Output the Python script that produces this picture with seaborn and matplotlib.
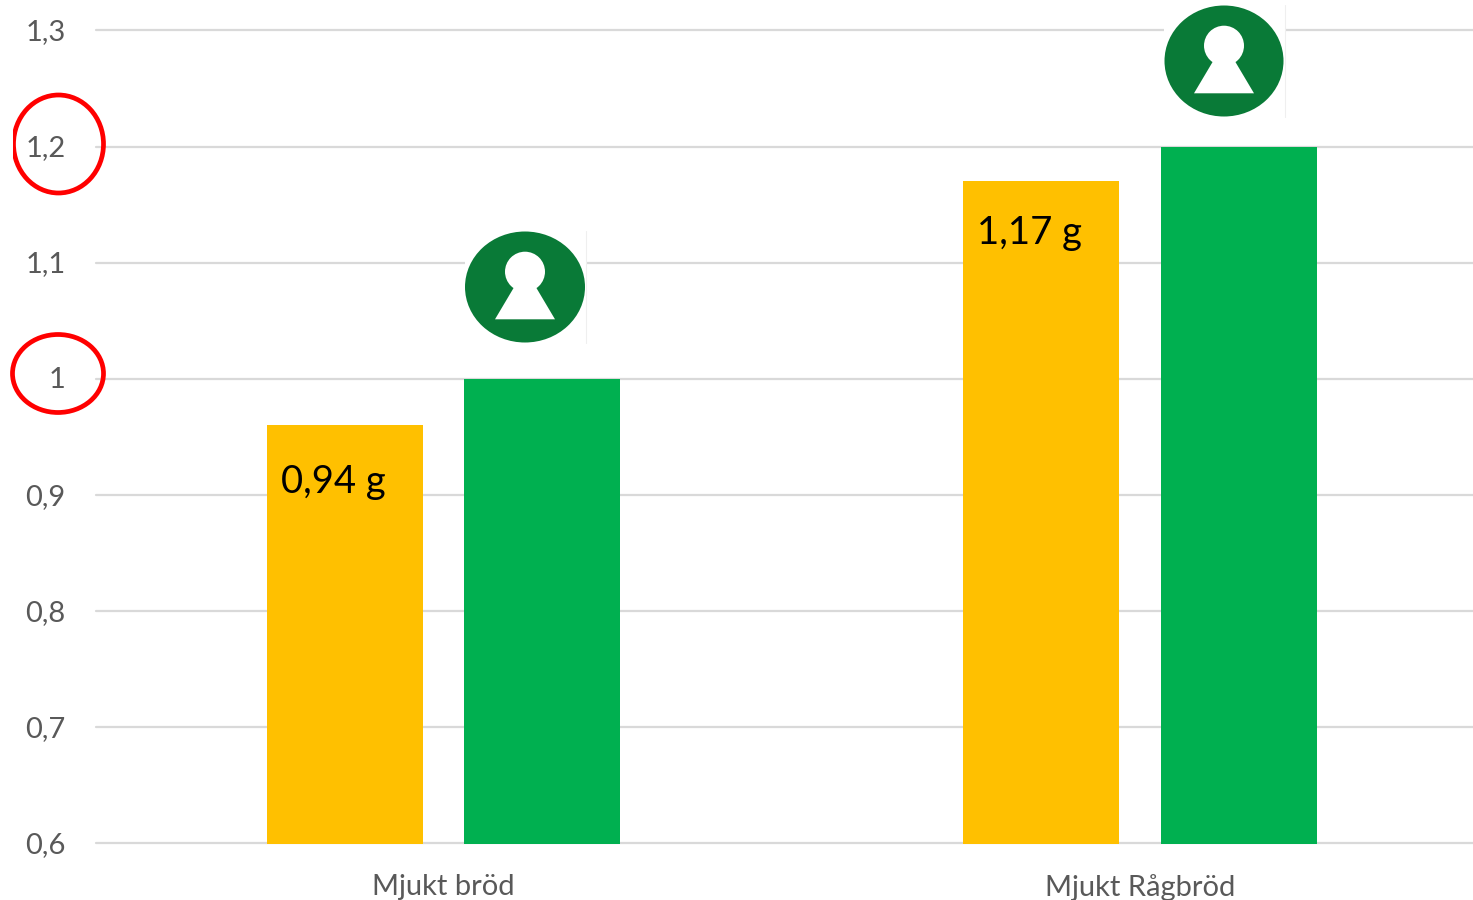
import matplotlib
matplotlib.use("Agg")
import matplotlib.pyplot as plt
from matplotlib.patches import Circle, Ellipse, Polygon, Rectangle
from matplotlib.transforms import ScaledTranslation
import pandas as pd
import seaborn as sns

categories = ["Mjukt bröd", "Mjukt Rågbröd"]
yellow_values = [0.96, 1.17]
green_values = [1.0, 1.2]
bar_labels = ["0,94 g", "1,17 g"]
y_ticks = [0.6, 0.7, 0.8, 0.9, 1.0, 1.1, 1.2, 1.3]
y_tick_labels = ["0,6", "0,7", "0,8", "0,9", "1", "1,1", "1,2", "1,3"]

W, H = 1473, 900
sns.set_theme(style="white")
plt.rcParams["font.family"] = ["Lato", "DejaVu Sans"]

df = pd.DataFrame({
    "cat": categories * 2,
    "serie": ["a"] * 2 + ["b"] * 2,
    "v": yellow_values + green_values,
})

fig = plt.figure(figsize=(W / 100, H / 100), dpi=100, facecolor="white")
ax = fig.add_axes([96 / W, (H - 843.5) / H, (W - 96) / W, (843.5 - 30.5) / H])
sns.barplot(data=df, x="cat", y="v", hue="serie", order=categories,
            palette=["#FFC000", "#00B050"], width=0.568, gap=0.211,
            saturation=1, legend=False, ax=ax, zorder=3, linewidth=0)
ax.set_xlim(-0.499, 1.478)
ax.set_ylim(0.6, 1.3)
ax.set_yticks(y_ticks, y_tick_labels)
ax.set_xlabel("")
ax.set_ylabel("")
for s in ax.spines.values():
    s.set_visible(False)
ax.grid(axis="y", color="#D9D9D9", lw=1.6, clip_on=False)
ax.grid(axis="x", visible=False)
for l in ax.get_ygridlines():
    l.set_clip_on(False)
ax.set_axisbelow(True)
ax.tick_params(axis="y", length=0, pad=22, labelsize=21, labelcolor="#595959")
ax.tick_params(axis="x", length=0, pad=22, labelsize=21, labelcolor="#595959")
for lab in ax.get_yticklabels():
    lab.set_transform(lab.get_transform() + ScaledTranslation(0, 1.0 / 100, fig.dpi_scale_trans))

# Value labels inside the yellow bars
for bar, txt, dy in zip(ax.patches[:2], bar_labels, (-27.5, -24)):
    ax.annotate(txt, (bar.get_x(), bar.get_height()), xytext=(10, dy),
                textcoords="offset points", ha="left", va="top",
                fontsize=27.5, color="black", zorder=5)

# Overlay in pixel coordinates for the decorations
ov = fig.add_axes([0, 0, 1, 1], facecolor="none")
ov.set_xlim(0, W)
ov.set_ylim(H, 0)
ov.axis("off")

def logo(cx, cy, rx, ry):
    ov.add_patch(Rectangle((cx - 60, cy - 56), 121, 112, fc="white", ec="none"))
    ov.plot([cx + 61, cx + 61], [cy - 56, cy + 56], color="#EFEFEF", lw=0.8)
    ov.add_patch(Ellipse((cx, cy), 2 * rx, 2 * ry, fc="#097A37", ec="none"))
    ov.add_patch(Circle((cx, cy - 15.3), 20, fc="white", ec="none"))
    ov.add_patch(Polygon([(cx - 11, cy + 0.3), (cx + 11, cy + 0.3),
                          (cx + 30, cy + 32.3), (cx - 30, cy + 32.3)],
                         closed=True, fc="white", ec="none"))

logo(525, 287, 60, 55.5)
logo(1224, 61, 59.5, 55.5)

ring = ov.add_patch(Ellipse((58.5, 144), 90, 98, fc="none", ec="#FF0000", lw=3.4))
ring.set_clip_path(Rectangle((12.5, 80), 110, 130, transform=ov.transData))
ov.add_patch(Ellipse((58, 373.5), 91, 78, fc="none", ec="#FF0000", lw=3.4))

fig.savefig("out.png", dpi=100)
